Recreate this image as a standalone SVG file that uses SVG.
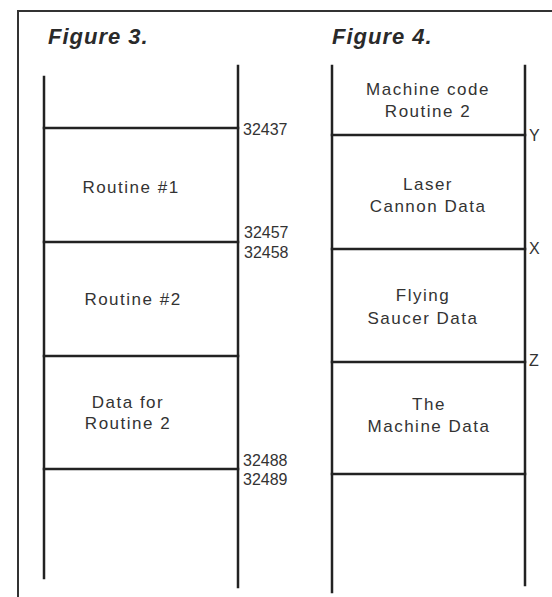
<svg xmlns="http://www.w3.org/2000/svg" width="552" height="597" viewBox="0 0 552 597">
<style>
.rail{stroke:#222;stroke-width:2.5;fill:none;stroke-linecap:square}
.frame{stroke:#333;stroke-width:2;fill:none}
.title{font-family:"Liberation Sans",Arial,sans-serif;font-size:22px;font-style:italic;font-weight:bold;fill:#2a2a2a;letter-spacing:1px}
.lbl{font-family:"Liberation Sans",Arial,sans-serif;font-size:17px;fill:#333;letter-spacing:1.5px;text-anchor:middle}
.addr{font-family:"Liberation Sans",Arial,sans-serif;font-size:16px;fill:#333}
</style>
<rect width="552" height="597" fill="#fff"/>
<path class="frame" d="M18,597 V11 H552"/>
<text class="title" x="48" y="44">Figure 3.</text>
<text class="title" x="332" y="44">Figure 4.</text>
<g id="connectors">
<g id="fig3-rails">
<line class="rail" x1="44" y1="77" x2="44" y2="578"/>
<line class="rail" x1="238" y1="66" x2="238" y2="587"/>
</g>
<g id="fig4-rails">
<line class="rail" x1="332" y1="66" x2="332" y2="592"/>
<line class="rail" x1="525" y1="66" x2="525" y2="585"/>
</g>
</g>
<g id="fig3-rung-32437"><line class="rail" x1="44" y1="128" x2="238" y2="128"/><text class="addr" x="243" y="135">32437</text></g>
<g id="fig3-routine1"><text class="lbl" x="131" y="193">Routine #1</text></g>
<g id="fig3-rung-32457"><line class="rail" x1="44" y1="242" x2="238" y2="242"/><text class="addr" x="244" y="238">32457</text><text class="addr" x="244" y="258">32458</text></g>
<g id="fig3-routine2"><text class="lbl" x="133" y="305">Routine #2</text></g>
<g id="fig3-rung-mid"><line class="rail" x1="44" y1="356" x2="238" y2="356"/></g>
<g id="fig3-data"><text class="lbl" x="128" y="408">Data for</text><text class="lbl" x="128" y="429">Routine 2</text></g>
<g id="fig3-rung-32488"><line class="rail" x1="44" y1="469" x2="238" y2="469"/><text class="addr" x="243" y="466">32488</text><text class="addr" x="243" y="485">32489</text></g>
<g id="fig4-mc"><text class="lbl" x="428" y="95">Machine code</text><text class="lbl" x="428" y="117">Routine 2</text></g>
<g id="fig4-rung-Y"><line class="rail" x1="332" y1="135" x2="525" y2="135"/><text class="addr" x="529" y="141">Y</text></g>
<g id="fig4-laser"><text class="lbl" x="428" y="190">Laser</text><text class="lbl" x="428" y="212">Cannon Data</text></g>
<g id="fig4-rung-X"><line class="rail" x1="332" y1="249" x2="525" y2="249"/><text class="addr" x="529" y="254">X</text></g>
<g id="fig4-saucer"><text class="lbl" x="423" y="301">Flying</text><text class="lbl" x="423" y="324">Saucer Data</text></g>
<g id="fig4-rung-Z"><line class="rail" x1="332" y1="362" x2="525" y2="362"/><text class="addr" x="529" y="366">Z</text></g>
<g id="fig4-machine"><text class="lbl" x="429" y="410">The</text><text class="lbl" x="429" y="432">Machine Data</text></g>
<g id="fig4-rung-bottom"><line class="rail" x1="332" y1="474" x2="525" y2="474"/></g>
</svg>
